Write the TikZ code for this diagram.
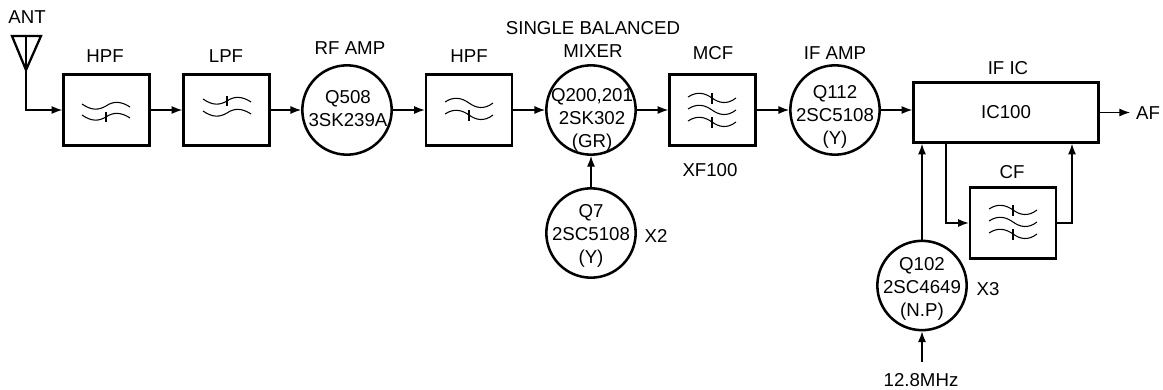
\documentclass[tikz,border=0pt]{standalone}
\usepackage{fontspec}
\setmainfont{Liberation Sans}
\usetikzlibrary{arrows.meta}
\tikzset{
 x=0.75pt,y=-0.75pt,
 filt/.style={draw,line width=1.9pt,minimum width=64.5pt,minimum height=53.5pt,inner sep=0pt},
 amp/.style={draw,circle,line width=1.9pt,minimum size=67pt,inner sep=0pt},
 lab/.style={font=\fontsize{14}{17.25}\selectfont,inner sep=0pt,align=center},
 conn/.style={line width=0.9pt,-{Latex[length=8pt,width=6pt]}},
 wavy/.style={line width=0.8pt},
 pics/waven/.style={code={\draw[wavy] (-24,-2) .. controls (-14,5) and (-7,4) .. (0,0) .. controls (7,-5) and (15,-5) .. (24,1);}},
 pics/wavent/.style={code={\draw[wavy] (-24,-2) .. controls (-14,5) and (-7,4) .. (0,0) .. controls (7,-5) and (15,-5) .. (24,1);\draw[wavy] (0,-5) -- (0,5);}},
 pics/waves/.style={code={\draw[wavy] (-24,-1) .. controls (-15,-7) and (-7,-5) .. (0,0) .. controls (7,5) and (15,7) .. (24,0);}},
 pics/wavest/.style={code={\draw[wavy] (-24,-1) .. controls (-15,-7) and (-7,-5) .. (0,0) .. controls (7,5) and (15,7) .. (24,0);\draw[wavy] (0,-5) -- (0,6);}}
}
\begin{document}
\begin{tikzpicture}
\useasboundingbox (0,0) rectangle (1163,389);
% antenna
\coordinate (antb) at (26,70);
\draw[line width=1.7pt,line join=miter] (12,36) -- (41,36) -- (26,70) -- cycle;
\draw[line width=0.8pt] (26,36) -- (26,70);
\node[lab] (ant) at (27,17) {ANT};
% filters and amplifiers
\node[filt] (hpf1) at (106.5,110) {};
\node[filt] (lpf) at (226.5,110) {};
\node[amp] (rf) at (347,110) {};
\node[filt] (hpf2) at (469,110) {};
\node[amp] (mix) at (591,110) {};
\node[filt] (mcf) at (712.5,110) {};
\node[amp] (ifa) at (835,110) {};
\node[draw,line width=1.9pt,minimum width=138.75pt,minimum height=45pt,inner sep=0pt,font=\fontsize{14}{17}\selectfont] (ic) at (1006,112.5) {IC100};
\node[amp] (q7) at (591,233) {};
\node[filt] (cf) at (1013,223) {};
\node[amp] (q102) at (922,285.5) {};
% circle texts
\node[lab] (trf) at (348,108.5) {Q508\\3SK239A};
\node[lab] (tmix) at (592,120) {Q200,201\\2SK302\\(GR)};
\node[lab] (tifa) at (835,117) {Q112\\2SC5108\\(Y)};
\node[lab] (tq7) at (591,236) {Q7\\2SC5108\\(Y)};
\node[lab] (tq102) at (922,289) {Q102\\2SC4649\\(N.P)};
% labels
\node[lab] (l1) at (105,56) {HPF};
\node[lab] (l2) at (226,56) {LPF};
\node[lab] (l3) at (350,48) {RF AMP};
\node[lab] (l4) at (469,56) {HPF};
\node[lab] (l5) at (593,39.5) {SINGLE BALANCED\\MIXER};
\node[lab] (l6) at (713,53) {MCF};
\node[lab] (l7) at (835,53) {IF AMP};
\node[lab] (l8) at (1008,68) {IF IC};
\node[lab] (l9) at (1012,172) {CF};
\node[lab] (l10) at (710,170) {XF100};
\node[lab] (l11) at (656,236) {X2};
\node[lab] (l12) at (988,289) {X3};
\node[lab] (l13) at (921,380) {12.8MHz};
\node[lab] (l14) at (1148,113) {AF};
\coordinate (clk) at (922,362);
\coordinate (out) at (1130,112.5);
% waves
\pic at (106,106) {waven}; \pic at (106,117) {wavent};
\pic at (227,101) {wavent}; \pic at (227,113) {waven};
\pic at (469,103) {waves}; \pic at (469,115) {wavest};
\pic at (712,98) {wavest}; \pic at (712,110) {waves}; \pic at (712,122) {wavest};
\pic at (1013,210) {wavest}; \pic at (1013,222) {waves}; \pic at (1013,234) {wavest};
% connectors
\draw[conn] (antb) |- (hpf1.west);
\draw[conn] (hpf1) -- (lpf);
\draw[conn] (lpf) -- (rf);
\draw[conn] (rf) -- (hpf2);
\draw[conn] (hpf2) -- (mix);
\draw[conn] (mix) -- (mcf);
\draw[conn] (mcf) -- (ifa);
\draw[conn] (ifa) -- (ic.west |- ifa);
\draw[conn] (ic) -- (out);
\draw[conn] (q7) -- (mix);
\draw[conn] (q102.north) -- (q102.north |- ic.south);
\draw[conn] (clk) -- (q102);
\draw[conn] (ic.south -| 946,0) |- (cf.west);
\draw[conn] (cf.east) -| (ic.south -| 1072,0);
\end{tikzpicture}
\end{document}
